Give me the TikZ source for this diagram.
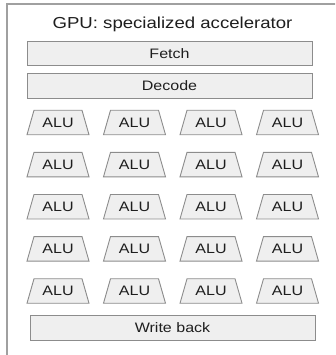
\documentclass[tikz,border=0pt]{standalone}
\usepackage{fontspec}
\setmainfont{Liberation Sans}[FakeStretch=1.17]
\definecolor{boxfill}{HTML}{EFEFEF}
\definecolor{boxline}{HTML}{8C8C8C}
\definecolor{frameline}{HTML}{A0A0A0}
\definecolor{ink}{HTML}{1E1E1E}
\tikzset{
  stage/.style={draw=boxline, fill=boxfill, line width=0.9pt, rectangle,
    minimum width=285pt, minimum height=24.5pt, inner sep=0pt,
    text=ink, font=\fontsize{13.7}{14}\selectfont},
  alushape/.style={draw=boxline, fill=boxfill, line width=0.9pt, line join=miter},
  alu/.style={inner sep=0pt, minimum width=48pt, minimum height=24.5pt,
    text=ink, font=\fontsize{13.7}{14}\selectfont},
  headline/.style={text=ink, inner sep=0pt, font=\fontsize{15.9}{17}\selectfont}
}
\begin{document}
\begin{tikzpicture}[x=1pt, y=-1pt]
  \useasboundingbox (0,0) rectangle (335,355);
  \clip (0,0) rectangle (335,355);
  % enclosing frame, running off the right and bottom edges
  \draw[frameline, line width=1.4pt] (7,365) -- (7,4) -- (345,4);
  \node[headline, anchor=base] (title) at (172.5,28.5) {GPU: specialized accelerator};
  \node[stage] (fetch) at (169.5,53.5) {Fetch};
  \node[stage] (decode) at (169.5,86) {Decode};
  % grid of ALUs: 5 rows by 4 columns, each a trapezoid wider at the bottom
  \foreach \r/\y in {1/122.5, 2/164.6, 3/206.7, 4/248.8, 5/291} {
    \foreach \c/\x in {1/58, 2/134.5, 3/211, 4/287.5} {
      \draw[alushape, shift={(\x,\y)}]
        (-31,12.25) -- (-24,-12.25) -- (24,-12.25) -- (31,12.25) -- cycle;
      \node[alu] (alu-\r-\c) at (\x,\y) {ALU};
    }
  }
  \node[stage] (writeback) at (172.5,328) {Write back};
\end{tikzpicture}
\end{document}
